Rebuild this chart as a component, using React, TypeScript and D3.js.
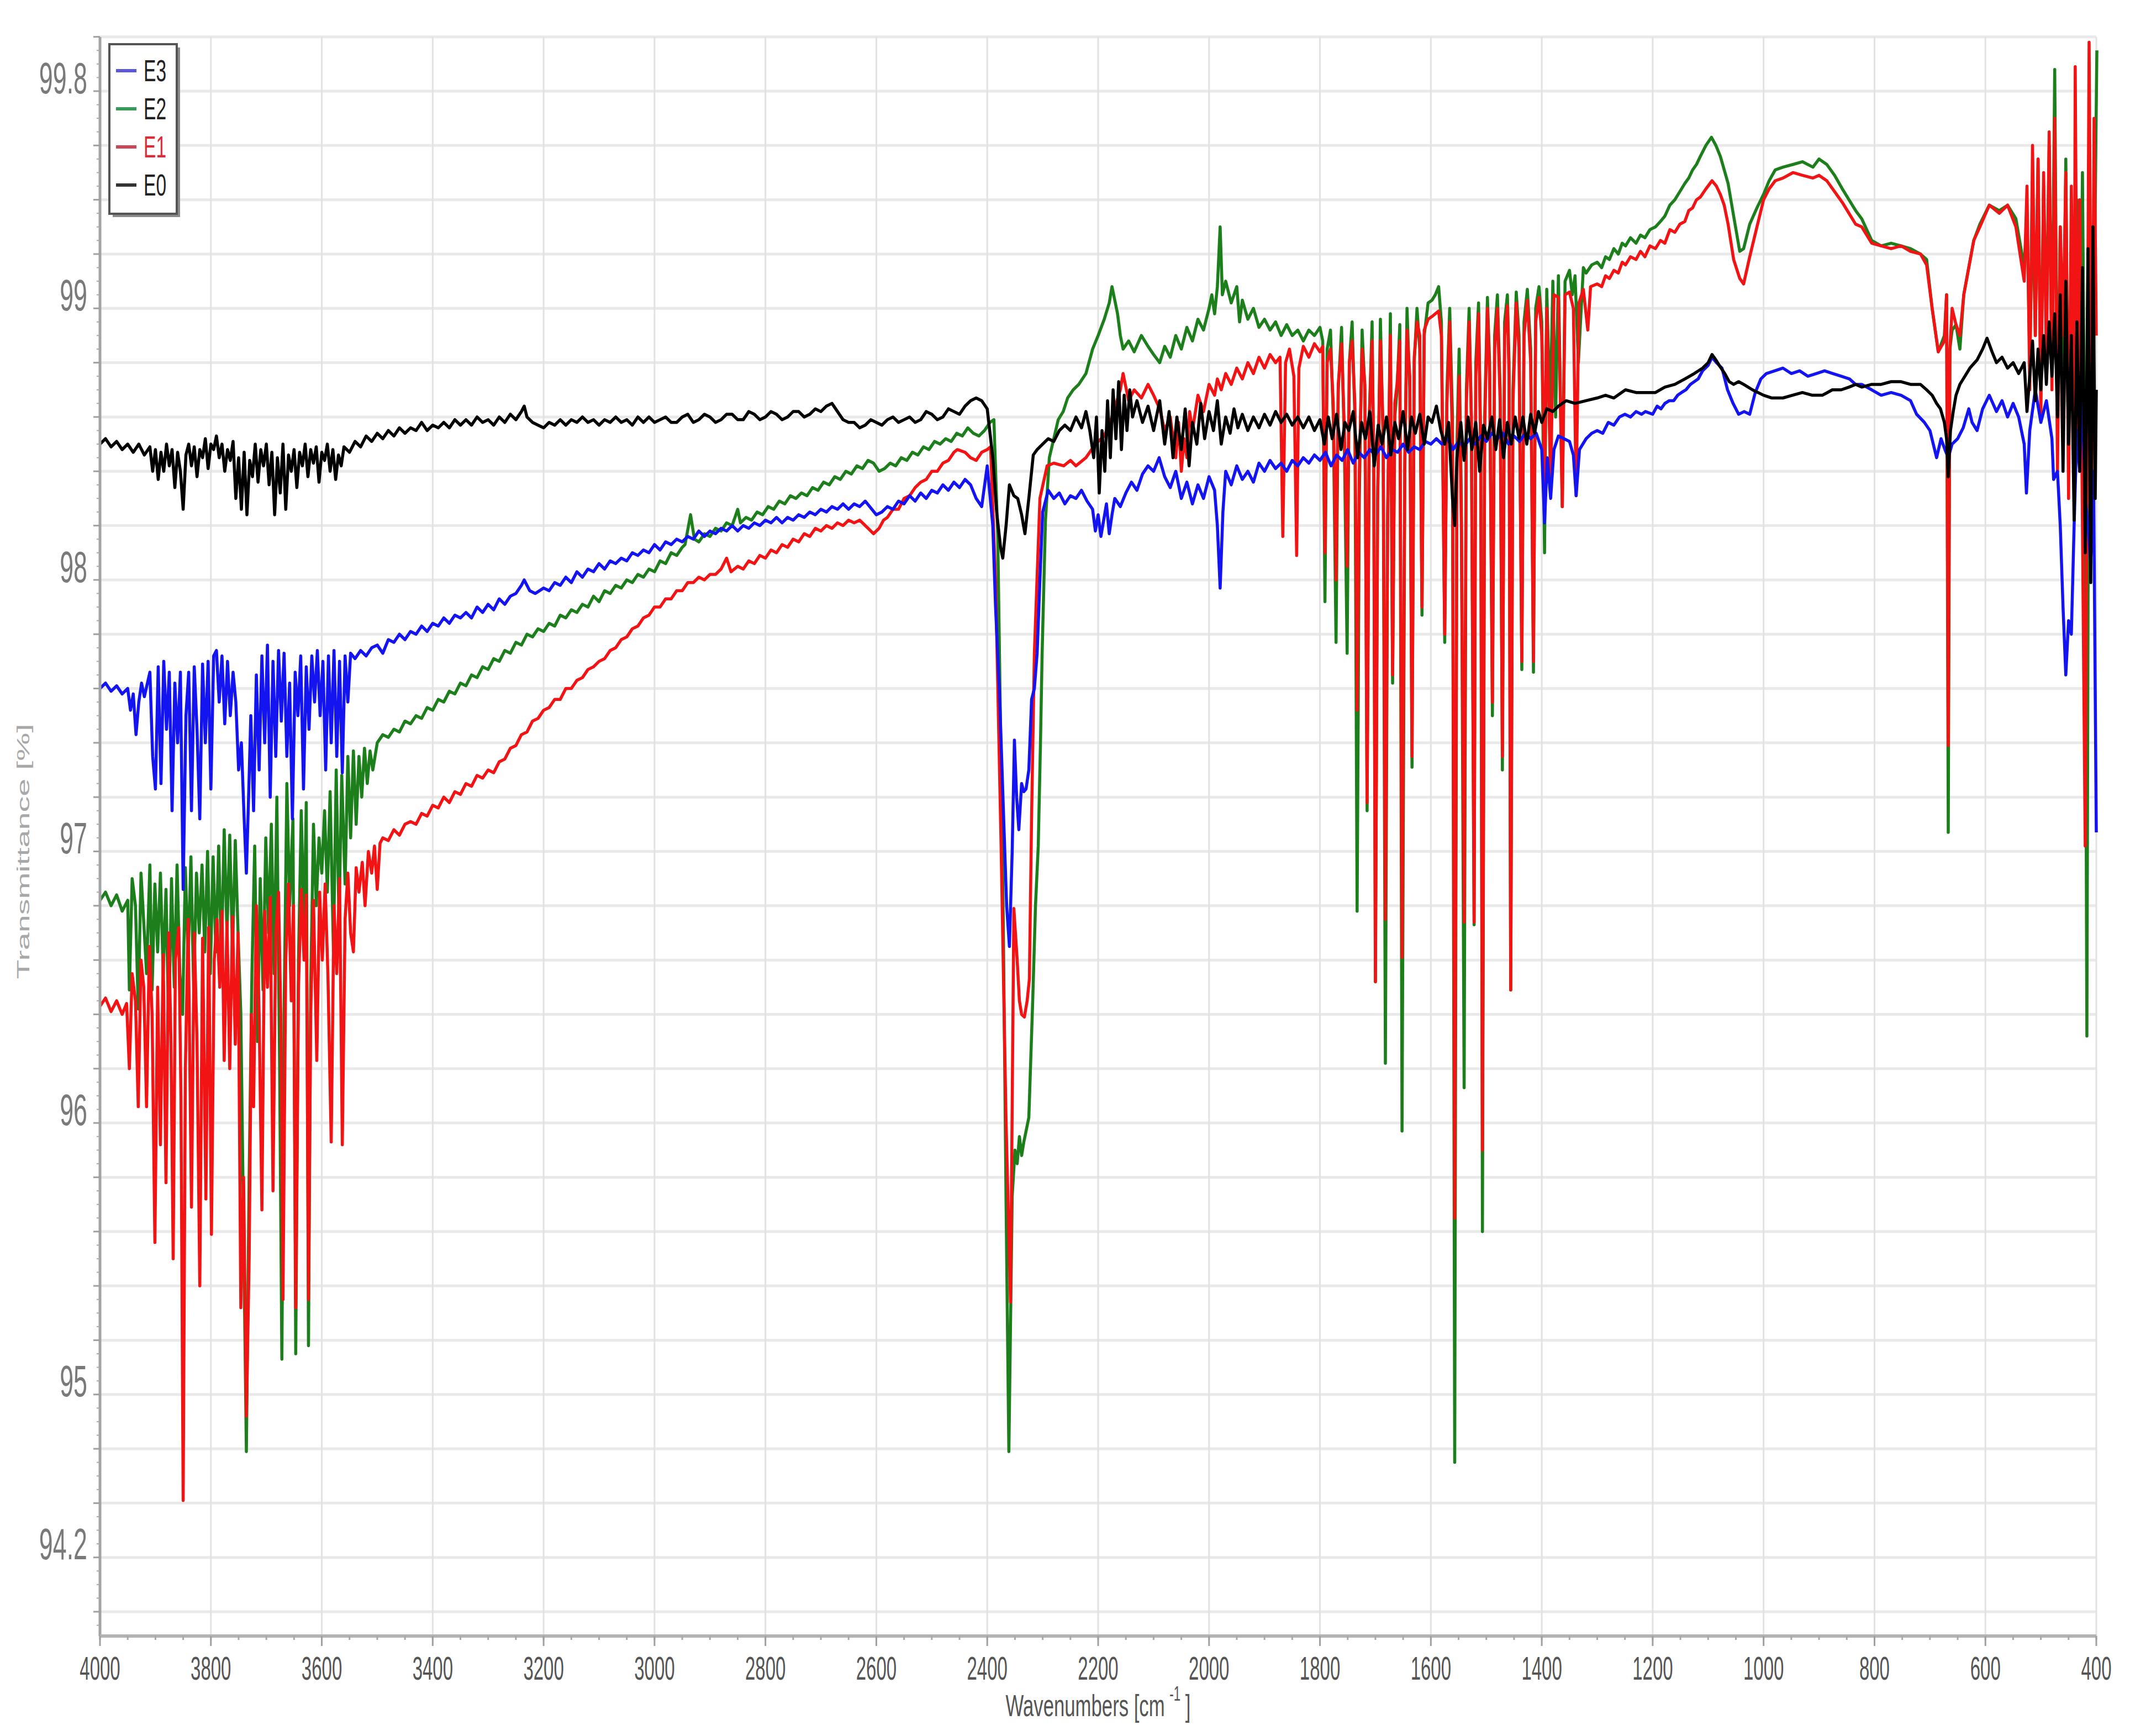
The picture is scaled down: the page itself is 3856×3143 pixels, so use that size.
import { useMemo } from "react";
import * as d3 from "d3";

type Pt = [number, number];

// E0 (black)
const e0: Pt[] = [
  [4000,98.50],[3990,98.52],[3980,98.49],[3970,98.51],[3960,98.48],[3950,98.50],[3940,98.47],[3930,98.50],[3920,98.46],[3910,98.49],
  [3905,98.40],[3900,98.48],[3895,98.37],[3890,98.47],[3885,98.40],[3880,98.50],[3875,98.42],[3870,98.48],[3865,98.34],[3860,98.47],
  [3855,98.40],[3850,98.26],[3845,98.46],[3840,98.50],[3835,98.42],[3830,98.49],[3825,98.38],[3820,98.48],[3815,98.45],[3810,98.52],
  [3805,98.41],[3800,98.50],[3795,98.48],[3790,98.53],[3785,98.45],[3780,98.50],[3775,98.40],[3770,98.48],[3765,98.44],[3760,98.51],
  [3755,98.30],[3750,98.45],[3745,98.26],[3740,98.47],[3735,98.24],[3730,98.44],[3725,98.38],[3720,98.50],[3715,98.36],[3710,98.48],
  [3705,98.42],[3700,98.50],[3695,98.35],[3690,98.47],[3685,98.24],[3680,98.45],[3675,98.32],[3670,98.50],[3665,98.26],[3660,98.46],
  [3655,98.40],[3650,98.48],[3645,98.34],[3640,98.47],[3635,98.42],[3630,98.50],[3625,98.38],[3620,98.48],[3615,98.43],[3610,98.49],
  [3605,98.36],[3600,98.47],[3595,98.44],[3590,98.50],[3585,98.40],[3580,98.48],[3575,98.37],[3570,98.46],[3565,98.42],[3560,98.49],
  [3550,98.47],[3540,98.51],[3530,98.49],[3520,98.53],[3510,98.51],[3500,98.54],[3490,98.52],[3480,98.55],[3470,98.53],[3460,98.56],
  [3450,98.54],[3440,98.56],[3430,98.55],[3420,98.58],[3410,98.55],[3400,98.57],[3390,98.56],[3380,98.58],[3370,98.56],[3360,98.59],
  [3350,98.57],[3340,98.59],[3330,98.57],[3320,98.60],[3310,98.58],[3300,98.59],[3290,98.57],[3280,98.60],[3270,98.58],[3260,98.61],
  [3250,98.59],[3240,98.62],[3235,98.64],[3230,98.60],[3220,98.58],[3210,98.57],[3200,98.56],[3190,98.58],[3180,98.57],[3170,98.59],
  [3160,98.57],[3150,98.59],[3140,98.58],[3130,98.60],[3120,98.58],[3110,98.59],[3100,98.57],[3090,98.59],[3080,98.58],[3070,98.60],
  [3060,98.58],[3050,98.59],[3040,98.57],[3030,98.60],[3020,98.58],[3010,98.60],[3000,98.58],[2990,98.59],[2980,98.60],[2970,98.58],
  [2960,98.58],[2950,98.60],[2940,98.61],[2930,98.58],[2920,98.59],[2910,98.61],[2900,98.60],[2890,98.58],[2880,98.59],[2870,98.61],
  [2860,98.61],[2850,98.59],[2840,98.59],[2830,98.62],[2820,98.61],[2810,98.59],[2800,98.60],[2790,98.62],[2780,98.61],[2770,98.59],
  [2760,98.60],[2750,98.62],[2740,98.62],[2730,98.60],[2720,98.61],[2710,98.63],[2700,98.62],[2690,98.64],[2680,98.65],[2670,98.62],
  [2660,98.59],[2650,98.58],[2640,98.58],[2630,98.56],[2620,98.57],[2610,98.59],[2600,98.58],[2590,98.57],[2580,98.59],[2570,98.60],
  [2560,98.58],[2550,98.59],[2540,98.60],[2530,98.58],[2520,98.59],[2510,98.62],[2500,98.61],[2490,98.59],[2480,98.60],[2470,98.63],
  [2460,98.62],[2450,98.61],[2440,98.64],[2430,98.66],[2420,98.67],[2410,98.66],[2400,98.63],
  [2390,98.45],[2383,98.25],[2376,98.12],[2372,98.08],[2366,98.20],[2360,98.35],[2352,98.31],[2345,98.30],[2338,98.24],[2332,98.17],
  [2325,98.30],[2317,98.46],[2310,98.48],[2300,98.50],[2290,98.52],[2280,98.51],[2270,98.55],[2260,98.57],[2250,98.55],[2240,98.60],
  [2230,98.56],[2222,98.62],[2215,98.55],[2208,98.45],[2203,98.60],[2198,98.32],[2193,98.55],[2188,98.40],[2183,98.66],[2178,98.45],
  [2173,98.70],[2168,98.52],[2163,98.73],[2158,98.48],[2153,98.68],[2148,98.55],[2143,98.70],[2138,98.60],[2130,98.66],[2120,98.58],
  [2110,98.64],[2100,98.55],[2089,98.66],[2080,98.50],[2072,98.62],[2065,98.45],[2058,98.60],[2050,98.48],[2043,98.63],[2036,98.42],
  [2030,98.58],[2022,98.50],[2015,98.65],[2008,98.52],[2000,98.62],[1992,98.55],[1985,98.66],[1978,98.50],[1970,98.60],[1962,98.54],
  [1955,98.63],[1948,98.56],[1940,98.61],[1930,98.55],[1920,98.60],[1910,98.56],[1900,98.61],[1890,98.57],[1880,98.62],[1870,98.58],
  [1860,98.61],[1850,98.57],[1840,98.60],[1830,98.56],[1820,98.60],[1810,98.55],[1800,98.59],[1792,98.50],[1785,98.60],[1778,98.52],
  [1770,98.61],[1762,98.48],[1755,98.58],[1748,98.55],[1740,98.62],[1732,98.45],[1725,98.58],[1718,98.52],[1710,98.62],[1702,98.42],
  [1695,98.57],[1688,98.50],[1680,98.60],[1672,98.46],[1665,98.58],[1658,98.52],[1650,98.62],[1642,98.48],[1635,98.60],[1628,98.54],
  [1620,98.61],[1612,98.50],[1605,98.60],[1598,98.58],[1590,98.64],[1582,98.55],[1575,98.50],[1568,98.58],[1561,98.30],[1557,98.20],
  [1553,98.45],[1546,98.58],[1540,98.44],[1533,98.60],[1526,98.48],[1519,98.58],[1512,98.40],[1505,98.57],[1498,98.52],[1490,98.60],
  [1483,98.48],[1476,98.59],[1469,98.45],[1462,98.58],[1455,98.50],[1448,98.60],[1441,98.52],[1434,98.60],[1427,98.50],[1420,98.61],
  [1413,98.54],[1406,98.62],[1400,98.58],[1391,98.63],[1380,98.62],[1370,98.64],[1356,98.66],[1340,98.65],[1320,98.66],[1300,98.67],
  [1285,98.68],[1270,98.67],[1249,98.70],[1230,98.69],[1213,98.69],[1195,98.69],[1178,98.71],[1160,98.72],[1142,98.74],[1125,98.76],
  [1110,98.78],[1100,98.80],[1093,98.83],[1086,98.81],[1080,98.79],[1070,98.76],[1062,98.73],[1054,98.72],[1045,98.73],[1036,98.72],
  [1020,98.70],[1000,98.68],[985,98.67],[965,98.67],[948,98.68],[930,98.69],[912,98.68],[894,98.68],[876,98.70],[860,98.70],
  [846,98.71],[834,98.72],[823,98.71],[805,98.72],[788,98.72],[770,98.73],[752,98.73],[735,98.72],[717,98.72],[706,98.70],
  [696,98.68],[688,98.65],[681,98.63],[674,98.58],[670,98.52],[667,98.38],[663,98.55],[658,98.62],[653,98.68],[646,98.72],
  [640,98.74],[628,98.78],[615,98.81],[605,98.85],[597,98.89],[588,98.84],[580,98.80],[570,98.82],[560,98.78],[550,98.80],
  [540,98.76],[530,98.80],[525,98.62],[520,98.75],[515,98.88],[510,98.66],[505,98.85],[500,98.70],[495,98.90],[490,98.72],
  [485,98.95],[480,98.75],[475,98.98],[470,98.60],[465,99.05],[460,98.40],[455,99.10],[450,98.50],[445,98.90],[440,98.22],
  [435,98.95],[430,98.40],[425,99.15],[420,98.10],[415,99.22],[410,97.99],[406,99.30],[402,98.30],[400,98.70],
];

// E1 (red)
const e1: Pt[] = [
  [4000,96.43],[3990,96.46],[3980,96.41],[3970,96.45],[3960,96.40],[3952,96.44],[3947,96.20],[3942,96.55],[3936,96.45],[3931,96.06],
  [3926,96.60],[3921,96.50],[3916,96.06],[3911,96.65],[3906,96.40],[3901,95.56],[3896,96.50],[3891,95.92],[3886,96.62],[3881,95.78],
  [3876,96.70],[3872,96.30],[3868,95.50],[3864,96.60],[3858,96.72],[3854,96.10],[3850,94.61],[3846,96.20],[3841,96.75],[3835,95.69],
  [3830,96.70],[3825,96.30],[3820,95.40],[3815,96.68],[3809,95.72],[3804,96.72],[3799,95.59],[3794,96.60],[3789,96.75],[3784,96.50],
  [3780,96.78],[3776,96.23],[3771,96.74],[3766,96.20],[3761,96.76],[3756,96.29],[3751,96.70],[3746,95.32],[3741,95.80],[3736,94.92],
  [3731,95.50],[3727,96.40],[3723,96.06],[3718,96.80],[3713,96.40],[3708,95.68],[3703,96.78],[3698,96.50],[3693,96.83],[3688,95.75],
  [3683,96.70],[3678,96.85],[3674,96.40],[3670,95.35],[3665,96.60],[3660,96.88],[3655,96.45],[3651,96.80],[3647,95.32],[3642,96.50],
  [3637,96.86],[3632,96.60],[3628,96.84],[3624,95.35],[3620,96.40],[3615,96.82],[3609,96.23],[3604,96.85],[3599,96.60],[3594,96.88],
  [3589,96.55],[3583,95.93],[3578,96.80],[3573,96.55],[3568,96.90],[3563,95.92],[3558,96.75],[3553,96.92],[3548,96.70],[3543,96.63],
  [3538,96.94],[3533,96.85],[3527,96.96],[3522,96.80],[3516,97.00],[3510,96.92],[3505,97.02],[3500,96.86],[3495,97.03],[3490,97.05],
  [3480,97.04],[3470,97.08],[3460,97.06],[3450,97.10],[3440,97.11],[3430,97.10],[3420,97.14],[3410,97.13],[3400,97.17],[3390,97.16],
  [3380,97.20],[3370,97.18],[3360,97.22],[3350,97.21],[3340,97.25],[3330,97.24],[3320,97.28],[3310,97.27],[3300,97.30],[3290,97.29],
  [3280,97.33],[3270,97.34],[3260,97.38],[3250,97.39],[3240,97.43],[3230,97.44],[3220,97.48],[3210,97.49],[3200,97.52],[3190,97.53],
  [3180,97.56],[3170,97.56],[3160,97.60],[3150,97.60],[3140,97.63],[3130,97.64],[3120,97.67],[3110,97.68],[3100,97.70],[3090,97.71],
  [3080,97.74],[3070,97.75],[3060,97.78],[3050,97.79],[3040,97.82],[3030,97.83],[3020,97.86],[3010,97.87],[3000,97.90],[2990,97.90],
  [2980,97.93],[2970,97.93],[2960,97.96],[2950,97.96],[2940,97.99],[2930,97.99],[2920,98.01],[2910,98.00],[2900,98.02],[2890,98.02],
  [2880,98.04],[2870,98.08],[2862,98.03],[2850,98.05],[2840,98.04],[2830,98.07],[2820,98.06],[2810,98.09],[2800,98.08],[2790,98.11],
  [2780,98.10],[2770,98.13],[2760,98.12],[2750,98.15],[2740,98.14],[2730,98.17],[2720,98.16],[2710,98.19],[2700,98.18],[2690,98.20],
  [2680,98.19],[2670,98.21],[2660,98.20],[2650,98.22],[2640,98.21],[2630,98.22],[2620,98.20],[2605,98.17],[2595,98.19],[2587,98.22],
  [2580,98.23],[2570,98.26],[2560,98.26],[2550,98.30],[2540,98.31],[2530,98.34],[2520,98.36],[2510,98.37],[2500,98.40],[2490,98.40],
  [2480,98.43],[2470,98.44],[2460,98.47],[2454,98.48],[2440,98.47],[2430,98.45],[2420,98.44],[2410,98.47],[2400,98.48],[2394,98.49],
  [2385,98.00],[2375,97.02],[2366,96.00],[2358,95.34],[2352,96.79],[2346,96.60],[2342,96.45],[2338,96.40],[2333,96.39],[2328,96.45],
  [2324,96.53],[2320,97.13],[2315,97.73],[2305,98.30],[2292,98.42],[2280,98.43],[2262,98.42],[2250,98.44],[2240,98.42],[2222,98.45],
  [2205,98.50],[2189,98.53],[2175,98.60],[2160,98.70],[2155,98.76],[2145,98.66],[2135,98.70],[2122,98.67],[2110,98.72],[2100,98.68],
  [2089,98.63],[2080,98.55],[2070,98.60],[2060,98.45],[2055,98.58],[2050,98.40],[2045,98.52],[2040,98.45],[2035,98.62],[2030,98.55],
  [2020,98.68],[2010,98.62],[2000,98.72],[1990,98.68],[1985,98.74],[1978,98.70],[1970,98.76],[1960,98.72],[1950,98.78],[1940,98.74],
  [1930,98.80],[1920,98.76],[1910,98.82],[1900,98.78],[1890,98.83],[1880,98.80],[1872,98.82],[1867,98.16],[1862,98.80],[1855,98.85],
  [1847,98.75],[1842,98.09],[1838,98.78],[1830,98.86],[1820,98.82],[1810,98.87],[1800,98.84],[1795,98.86],[1791,98.10],[1787,98.80],
  [1781,98.85],[1776,98.65],[1771,98.00],[1767,98.72],[1761,98.87],[1756,98.55],[1751,98.05],[1747,98.80],[1742,98.88],[1737,98.65],
  [1733,97.52],[1729,98.40],[1724,98.85],[1719,98.72],[1715,97.18],[1711,98.60],[1706,98.88],[1703,98.45],[1700,96.52],[1696,98.30],
  [1691,98.88],[1686,98.55],[1682,96.75],[1678,98.25],[1673,98.90],[1669,97.65],[1665,98.65],[1661,98.72],[1656,98.88],[1652,96.61],
  [1647,98.45],[1643,98.92],[1638,98.75],[1634,97.35],[1630,98.82],[1625,98.95],[1620,98.90],[1616,97.90],[1612,98.92],[1605,98.96],
  [1598,98.97],[1592,98.98],[1586,98.99],[1581,98.90],[1575,97.80],[1571,98.65],[1566,98.95],[1561,98.50],[1557,95.65],[1553,98.40],
  [1549,98.75],[1545,98.20],[1540,96.74],[1536,98.65],[1531,98.95],[1527,98.60],[1522,96.74],[1519,98.75],[1514,98.98],[1510,98.45],
  [1507,95.90],[1503,98.55],[1498,99.00],[1494,98.75],[1489,97.55],[1485,98.85],[1480,99.00],[1475,98.65],[1471,97.35],[1467,98.90],
  [1462,99.01],[1459,98.75],[1456,96.49],[1452,98.65],[1446,99.02],[1441,98.85],[1436,97.70],[1432,98.90],[1426,99.03],[1420,98.80],
  [1415,97.70],[1411,98.95],[1405,99.04],[1400,98.90],[1395,98.35],[1391,99.00],[1384,98.35],[1378,99.05],[1370,99.04],[1363,98.27],
  [1358,99.05],[1350,99.06],[1343,99.00],[1338,98.31],[1333,99.02],[1325,99.07],[1317,98.92],[1312,99.08],[1300,99.09],[1292,99.08],
  [1285,99.12],[1278,99.11],[1270,99.14],[1262,99.13],[1255,99.17],[1249,99.16],[1240,99.19],[1230,99.18],[1222,99.21],[1214,99.19],
  [1205,99.23],[1195,99.22],[1186,99.25],[1178,99.24],[1169,99.29],[1160,99.28],[1151,99.31],[1142,99.32],[1135,99.36],[1128,99.37],
  [1121,99.40],[1114,99.41],[1104,99.44],[1093,99.47],[1085,99.45],[1078,99.42],[1071,99.38],[1064,99.31],[1054,99.18],[1043,99.11],
  [1036,99.09],[1025,99.19],[1012,99.30],[1000,99.40],[990,99.44],[979,99.47],[965,99.48],[947,99.50],[930,99.49],[911,99.48],
  [900,99.49],[886,99.47],[872,99.43],[858,99.39],[846,99.35],[834,99.31],[823,99.30],[805,99.24],[788,99.23],[770,99.22],
  [752,99.23],[735,99.21],[717,99.20],[706,99.16],[696,99.00],[685,98.84],[674,98.88],[670,99.05],[667,97.39],[664,98.85],
  [660,99.00],[653,98.94],[646,98.90],[639,99.05],[630,99.15],[621,99.25],[610,99.30],[593,99.38],[575,99.35],[560,99.38],
  [545,99.30],[530,99.10],[525,99.45],[520,98.70],[515,99.60],[510,98.90],[505,99.55],[500,98.60],[495,99.50],[490,98.80],
  [485,99.65],[480,98.70],[475,99.70],[470,98.40],[465,99.30],[460,98.90],[455,99.50],[450,98.30],[445,99.45],[440,98.60],
  [438,99.89],[434,98.50],[430,99.40],[425,98.20],[420,97.02],[416,98.80],[413,99.98],[408,98.40],[404,99.70],[400,98.90],
];

// E2 (green)
const e2: Pt[] = [
  [4000,96.82],[3990,96.85],[3980,96.80],[3970,96.84],[3960,96.78],[3950,96.82],[3947,96.49],[3942,96.90],[3936,96.80],[3931,96.42],
  [3926,96.92],[3920,96.70],[3916,96.55],[3910,96.95],[3906,96.49],[3901,96.88],[3896,96.63],[3891,96.92],[3886,96.55],[3881,96.86],
  [3876,96.35],[3871,96.90],[3866,96.50],[3861,96.95],[3856,96.55],[3851,96.40],[3846,96.94],[3841,96.60],[3836,96.98],[3831,96.49],
  [3826,96.92],[3821,96.70],[3816,96.95],[3811,96.63],[3806,97.00],[3801,96.55],[3796,96.98],[3791,96.63],[3786,97.02],[3781,96.60],
  [3776,97.08],[3771,96.70],[3766,97.06],[3761,96.63],[3756,97.04],[3751,96.70],[3746,96.40],[3741,95.60],[3736,94.79],[3731,95.80],
  [3726,96.55],[3721,97.02],[3716,96.30],[3711,96.90],[3706,96.49],[3701,97.05],[3696,96.70],[3691,97.10],[3686,96.55],[3681,97.20],
  [3676,96.20],[3672,95.13],[3668,96.40],[3663,97.25],[3658,96.80],[3652,97.12],[3647,95.15],[3642,96.60],[3637,97.15],[3632,96.70],
  [3628,97.18],[3624,95.18],[3620,96.50],[3615,97.10],[3610,96.80],[3605,97.05],[3600,96.92],[3595,97.15],[3590,96.85],[3585,97.22],
  [3579,96.63],[3574,97.30],[3569,96.75],[3564,97.28],[3558,96.88],[3553,97.35],[3548,97.05],[3543,97.37],[3538,97.10],[3533,97.35],
  [3528,97.20],[3523,97.38],[3518,97.25],[3513,97.37],[3508,97.30],[3500,97.40],[3490,97.43],[3480,97.42],[3470,97.45],[3460,97.44],
  [3450,97.48],[3440,97.47],[3430,97.50],[3420,97.49],[3410,97.53],[3400,97.52],[3390,97.56],[3380,97.55],[3370,97.59],[3360,97.58],
  [3350,97.62],[3340,97.61],[3330,97.65],[3320,97.64],[3310,97.68],[3300,97.67],[3290,97.71],[3280,97.70],[3270,97.74],[3260,97.73],
  [3250,97.77],[3240,97.76],[3230,97.80],[3220,97.79],[3210,97.82],[3200,97.81],[3190,97.84],[3180,97.83],[3170,97.87],[3160,97.86],
  [3150,97.89],[3140,97.88],[3130,97.91],[3120,97.90],[3110,97.94],[3100,97.92],[3090,97.96],[3080,97.95],[3070,97.98],[3060,97.97],
  [3050,98.00],[3040,97.99],[3030,98.02],[3020,98.01],[3010,98.04],[3000,98.03],[2990,98.07],[2980,98.06],[2970,98.10],[2960,98.09],
  [2950,98.12],[2945,98.13],[2935,98.24],[2928,98.15],[2920,98.14],[2910,98.17],[2900,98.16],[2890,98.19],[2880,98.18],[2870,98.21],
  [2860,98.20],[2850,98.26],[2845,98.21],[2835,98.23],[2825,98.22],[2815,98.25],[2805,98.24],[2795,98.27],[2785,98.26],[2775,98.29],
  [2765,98.28],[2755,98.31],[2745,98.30],[2735,98.32],[2725,98.31],[2715,98.34],[2705,98.33],[2695,98.36],[2685,98.35],[2675,98.38],
  [2665,98.37],[2655,98.40],[2645,98.39],[2635,98.42],[2625,98.41],[2615,98.44],[2605,98.43],[2595,98.40],[2585,98.41],[2575,98.43],
  [2565,98.42],[2555,98.45],[2545,98.44],[2535,98.47],[2525,98.46],[2515,98.49],[2505,98.48],[2495,98.51],[2485,98.50],[2475,98.52],
  [2465,98.51],[2455,98.54],[2445,98.53],[2435,98.56],[2425,98.54],[2415,98.53],[2405,98.55],[2395,98.58],[2388,98.59],[2381,98.16],
  [2376,97.45],[2371,96.73],[2366,95.70],[2361,94.79],[2355,95.73],[2350,95.90],[2346,95.85],[2342,95.95],[2338,95.88],[2334,95.93],
  [2330,95.97],[2325,96.02],[2318,96.45],[2313,96.80],[2308,97.02],[2304,97.40],[2301,97.73],[2295,98.22],[2288,98.45],[2280,98.52],
  [2272,98.59],[2263,98.62],[2255,98.67],[2245,98.70],[2235,98.72],[2222,98.76],[2210,98.85],[2200,98.90],[2189,98.96],[2180,99.02],
  [2175,99.08],[2170,99.03],[2165,98.98],[2160,98.90],[2155,98.85],[2145,98.88],[2135,98.84],[2122,98.90],[2110,98.86],[2100,98.83],
  [2089,98.80],[2080,98.86],[2070,98.82],[2060,98.90],[2050,98.85],[2040,98.93],[2030,98.88],[2020,98.96],[2010,98.92],[2000,99.00],
  [1995,99.05],[1990,98.98],[1985,99.08],[1980,99.30],[1976,99.05],[1970,99.10],[1960,99.02],[1950,99.08],[1945,98.95],[1940,99.03],
  [1930,98.96],[1920,99.00],[1910,98.93],[1900,98.96],[1890,98.92],[1880,98.95],[1870,98.90],[1860,98.94],[1850,98.90],[1840,98.92],
  [1830,98.88],[1820,98.92],[1810,98.90],[1800,98.93],[1795,98.88],[1791,97.92],[1787,98.85],[1781,98.92],[1776,98.60],[1771,97.77],
  [1767,98.70],[1761,98.93],[1756,98.50],[1751,97.73],[1747,98.80],[1742,98.95],[1737,98.60],[1733,96.78],[1729,98.30],[1724,98.92],
  [1719,98.70],[1715,97.15],[1711,98.60],[1706,98.95],[1703,98.40],[1700,96.52],[1696,98.30],[1691,98.96],[1686,98.50],[1682,96.22],
  [1678,98.20],[1673,98.98],[1669,97.62],[1665,98.60],[1661,98.70],[1656,98.94],[1652,95.97],[1647,98.40],[1643,99.00],[1638,98.70],
  [1634,97.31],[1630,98.80],[1625,99.00],[1620,98.85],[1616,97.87],[1612,98.90],[1605,99.02],[1598,99.03],[1592,99.05],[1586,99.08],
  [1581,98.95],[1575,97.77],[1571,98.70],[1566,99.00],[1561,98.60],[1557,94.75],[1553,98.50],[1549,98.85],[1545,98.30],[1540,96.13],
  [1536,98.70],[1531,99.00],[1527,98.60],[1522,96.73],[1519,98.80],[1514,99.02],[1510,98.50],[1507,95.60],[1503,98.60],[1498,99.04],
  [1494,98.80],[1489,97.50],[1485,98.90],[1480,99.05],[1475,98.70],[1471,97.30],[1467,98.95],[1462,99.05],[1459,98.80],[1456,96.49],
  [1452,98.70],[1446,99.06],[1441,98.90],[1436,97.67],[1432,98.95],[1426,99.07],[1420,98.85],[1415,97.66],[1411,99.00],[1405,99.08],
  [1400,98.95],[1395,98.10],[1391,99.07],[1385,98.60],[1380,99.10],[1375,98.60],[1370,99.12],[1363,98.27],[1358,99.10],[1350,99.14],
  [1345,99.05],[1340,99.12],[1334,98.80],[1325,99.15],[1320,99.13],[1310,99.16],[1300,99.17],[1292,99.15],[1285,99.19],[1278,99.18],
  [1270,99.22],[1262,99.20],[1255,99.24],[1249,99.23],[1240,99.26],[1230,99.24],[1222,99.27],[1214,99.26],[1205,99.29],[1195,99.30],
  [1186,99.32],[1178,99.34],[1169,99.38],[1160,99.40],[1151,99.43],[1142,99.46],[1135,99.48],[1128,99.51],[1121,99.53],[1114,99.56],
  [1104,99.60],[1094,99.63],[1086,99.60],[1078,99.56],[1071,99.51],[1064,99.46],[1054,99.34],[1043,99.21],[1036,99.22],[1025,99.31],
  [1012,99.37],[1000,99.42],[990,99.47],[979,99.51],[965,99.52],[947,99.53],[930,99.54],[911,99.52],[900,99.55],[886,99.53],
  [872,99.49],[858,99.44],[846,99.40],[834,99.36],[823,99.33],[805,99.25],[788,99.23],[770,99.24],[752,99.23],[735,99.22],
  [717,99.20],[706,99.18],[696,99.00],[685,98.84],[674,98.90],[670,99.05],[667,97.07],[664,98.85],[660,98.92],[653,98.94],
  [646,98.85],[639,99.05],[630,99.15],[621,99.25],[610,99.31],[593,99.38],[575,99.36],[560,99.38],[545,99.33],[530,99.15],
  [525,99.35],[520,98.80],[515,99.40],[510,98.90],[505,99.55],[500,98.70],[495,99.45],[490,98.95],[485,99.60],[480,98.80],
  [475,99.88],[470,98.50],[465,99.30],[460,98.60],[455,99.55],[450,98.40],[445,99.20],[440,98.30],[435,99.40],[430,98.50],
  [425,99.50],[420,98.20],[417,96.32],[414,98.60],[410,99.30],[405,98.80],[399,99.95],
];

// E3 (blue)
const e3: Pt[] = [
  [4000,97.60],[3990,97.62],[3980,97.59],[3970,97.61],[3960,97.58],[3950,97.60],[3945,97.52],[3940,97.58],[3935,97.43],[3930,97.55],
  [3925,97.62],[3920,97.57],[3910,97.66],[3905,97.35],[3900,97.23],[3895,97.68],[3890,97.25],[3885,97.70],[3880,97.45],[3875,97.66],
  [3870,97.15],[3865,97.62],[3860,97.40],[3855,97.66],[3850,96.86],[3845,97.50],[3840,97.66],[3835,97.15],[3830,97.68],[3825,97.45],
  [3820,97.12],[3815,97.69],[3810,97.40],[3805,97.70],[3800,97.23],[3795,97.72],[3790,97.74],[3785,97.55],[3780,97.72],[3775,97.47],
  [3770,97.70],[3765,97.50],[3760,97.66],[3755,97.55],[3750,97.30],[3745,97.40],[3740,97.12],[3736,96.92],[3732,97.20],[3728,97.50],
  [3723,97.15],[3718,97.65],[3713,97.30],[3708,97.72],[3703,97.40],[3698,97.76],[3693,97.20],[3688,97.70],[3683,97.35],[3678,97.74],
  [3673,97.48],[3668,97.73],[3663,97.35],[3658,97.62],[3653,97.12],[3648,97.66],[3643,97.50],[3638,97.72],[3633,97.23],[3628,97.68],
  [3623,97.45],[3618,97.72],[3613,97.55],[3608,97.74],[3603,97.50],[3598,97.70],[3593,97.30],[3588,97.72],[3583,97.40],[3578,97.74],
  [3573,97.35],[3568,97.70],[3563,97.29],[3558,97.72],[3553,97.55],[3548,97.73],[3540,97.71],[3530,97.74],[3520,97.72],[3510,97.75],
  [3500,97.76],[3490,97.73],[3480,97.78],[3470,97.77],[3460,97.80],[3450,97.78],[3440,97.81],[3430,97.80],[3420,97.83],[3410,97.81],
  [3400,97.84],[3390,97.83],[3380,97.86],[3370,97.84],[3360,97.87],[3350,97.86],[3340,97.88],[3330,97.86],[3320,97.90],[3310,97.88],
  [3300,97.91],[3290,97.89],[3280,97.93],[3270,97.91],[3260,97.94],[3250,97.95],[3240,97.98],[3235,98.00],[3225,97.96],[3215,97.95],
  [3200,97.97],[3190,97.96],[3180,97.99],[3170,97.98],[3160,98.01],[3150,97.99],[3140,98.03],[3130,98.01],[3120,98.04],[3110,98.03],
  [3100,98.06],[3090,98.04],[3080,98.07],[3070,98.06],[3060,98.08],[3050,98.07],[3040,98.10],[3030,98.09],[3020,98.11],[3010,98.10],
  [3000,98.13],[2990,98.11],[2980,98.14],[2970,98.13],[2960,98.15],[2950,98.14],[2940,98.16],[2930,98.15],[2920,98.18],[2910,98.16],
  [2900,98.18],[2890,98.17],[2880,98.19],[2870,98.18],[2860,98.20],[2850,98.18],[2840,98.20],[2830,98.19],[2820,98.21],[2810,98.20],
  [2800,98.22],[2790,98.21],[2780,98.23],[2770,98.21],[2760,98.23],[2750,98.22],[2740,98.24],[2730,98.23],[2720,98.25],[2710,98.24],
  [2700,98.26],[2690,98.25],[2680,98.27],[2670,98.26],[2660,98.28],[2650,98.26],[2640,98.28],[2630,98.27],[2620,98.29],[2600,98.24],
  [2590,98.25],[2580,98.27],[2570,98.26],[2560,98.29],[2550,98.28],[2540,98.31],[2530,98.29],[2520,98.32],[2510,98.30],[2500,98.33],
  [2490,98.32],[2480,98.35],[2470,98.33],[2460,98.36],[2450,98.34],[2440,98.37],[2430,98.35],[2420,98.30],[2410,98.27],[2400,98.42],
  [2390,98.20],[2385,97.90],[2378,97.59],[2370,97.10],[2365,96.80],[2360,96.65],[2355,97.00],[2351,97.41],[2347,97.20],[2343,97.08],
  [2338,97.25],[2334,97.22],[2330,97.23],[2325,97.30],[2320,97.56],[2315,97.60],[2310,97.73],[2305,98.00],[2300,98.25],[2290,98.33],
  [2280,98.30],[2270,98.32],[2260,98.28],[2250,98.31],[2240,98.30],[2230,98.33],[2220,98.29],[2210,98.26],[2205,98.18],[2200,98.24],
  [2195,98.16],[2190,98.22],[2185,98.28],[2180,98.17],[2175,98.24],[2170,98.30],[2160,98.27],[2150,98.32],[2140,98.36],[2130,98.33],
  [2120,98.39],[2110,98.42],[2100,98.40],[2090,98.45],[2080,98.38],[2070,98.34],[2060,98.40],[2050,98.30],[2040,98.36],[2030,98.28],
  [2020,98.35],[2010,98.30],[2000,98.38],[1990,98.33],[1985,98.20],[1980,97.97],[1975,98.25],[1970,98.40],[1960,98.35],[1950,98.42],
  [1940,98.37],[1930,98.40],[1920,98.36],[1910,98.43],[1900,98.40],[1890,98.44],[1880,98.41],[1870,98.43],[1860,98.40],[1850,98.44],
  [1840,98.42],[1830,98.45],[1820,98.43],[1810,98.46],[1800,98.44],[1790,98.47],[1780,98.42],[1770,98.46],[1760,98.44],[1750,98.48],
  [1740,98.43],[1730,98.47],[1720,98.45],[1710,98.48],[1700,98.46],[1690,98.49],[1680,98.45],[1670,98.48],[1660,98.47],[1650,98.50],
  [1640,98.47],[1630,98.49],[1620,98.48],[1610,98.51],[1600,98.50],[1590,98.52],[1580,98.50],[1570,98.52],[1560,98.48],[1550,98.51],
  [1540,98.49],[1530,98.52],[1520,98.50],[1510,98.53],[1500,98.51],[1490,98.54],[1480,98.52],[1470,98.54],[1460,98.50],[1450,98.53],
  [1440,98.51],[1430,98.54],[1420,98.52],[1410,98.54],[1400,98.48],[1395,98.21],[1390,98.45],[1384,98.30],[1378,98.48],[1370,98.53],
  [1360,98.52],[1350,98.51],[1343,98.46],[1338,98.31],[1332,98.48],[1320,98.52],[1310,98.54],[1300,98.55],[1290,98.54],[1280,98.58],
  [1270,98.57],[1260,98.60],[1250,98.61],[1240,98.60],[1230,98.62],[1220,98.61],[1213,98.62],[1200,98.61],[1192,98.64],[1185,98.63],
  [1178,98.65],[1170,98.66],[1162,98.66],[1155,98.68],[1148,98.69],[1140,98.70],[1132,98.72],[1125,98.73],[1118,98.74],[1110,98.77],
  [1100,98.79],[1093,98.82],[1085,98.80],[1075,98.78],[1065,98.70],[1055,98.65],[1045,98.61],[1035,98.62],[1025,98.61],[1015,98.69],
  [1005,98.74],[995,98.76],[980,98.77],[965,98.78],[950,98.76],[935,98.77],[920,98.75],[905,98.76],[890,98.77],[875,98.76],
  [860,98.75],[845,98.74],[834,98.72],[823,98.72],[805,98.70],[788,98.68],[770,98.69],[752,98.68],[735,98.66],[724,98.61],
  [710,98.58],[700,98.55],[688,98.45],[680,98.52],[673,98.48],[667,98.45],[660,98.50],[650,98.52],[640,98.56],[630,98.63],
  [624,98.58],[615,98.55],[605,98.63],[593,98.68],[580,98.62],[570,98.66],[560,98.60],[550,98.65],[540,98.60],[530,98.50],
  [526,98.32],[520,98.55],[510,98.70],[500,98.58],[490,98.66],[480,98.52],[477,98.37],[470,98.40],[465,98.20],[460,97.90],
  [455,97.65],[450,97.85],[445,97.80],[440,98.20],[435,98.55],[430,98.40],[425,98.70],[420,98.30],[415,98.20],[410,98.06],
  [405,98.40],[400,97.07],
];

const seriesNames = ["E3", "E2", "E1", "E0"];
const seriesData = [e3, e2, e1, e0];
const lineColors = ["#1414f0", "#1c7f1c", "#f21414", "#000000"];
const swatchColors = ["#5a5ad8", "#3a9a5a", "#c84858", "#333333"];
const legendTextColors = ["#222222", "#222222", "#e02a36", "#222222"];
const drawOrder = [1, 2, 0, 3];

const xTicks = [4000, 3800, 3600, 3400, 3200, 3000, 2800, 2600, 2400, 2200, 2000, 1800, 1600, 1400, 1200, 1000, 800, 600, 400];
const yTickAt = [99.8, 99, 98, 97, 96, 95, 94.4];
const yTickText = ["99.8", "99", "98", "97", "96", "95", "94.2"];

const FONT = "'Liberation Sans', Arial, sans-serif";

export default function App() {
  const W = 3856;
  const H = 3143;
  const left = 181;
  const right = 3795;
  const top = 67;
  const bottom = 2962;

  const x = useMemo(() => d3.scaleLinear().domain([4000, 400]).range([left, right]), []);
  const y = useMemo(() => d3.scaleLinear().domain([94.2, 99.8]).range([2918, 165]), []);
  const line = d3.line<Pt>().x((d) => x(d[0])).y((d) => y(d[1]));

  const hGrid = d3.range(0, 30).map((i) => 94.2 + i * 0.2);
  const vGrid = d3.range(3800, 399, -200);
  const xMinor = d3.range(4000, 399, -50);
  const yMinor = d3.range(0, 118).map((i) => 94.15 + i * 0.05);

  return (
    <svg
      width={W}
      height={H}
      style={{ position: "absolute", left: 0, top: 0, background: "#fff" }}
      fontFamily={FONT}
    >
      <rect width={W} height={H} fill="#fff" />
      {/* grid */}
      {hGrid.map((v) => (
        <line key={"h" + v.toFixed(1)} x1={left} x2={right} y1={y(v)} y2={y(v)} stroke="#e9e9e9" strokeWidth={5} />
      ))}
      {vGrid.map((t) => (
        <line key={"v" + t} x1={x(t)} x2={x(t)} y1={top} y2={bottom} stroke="#e2e2e2" strokeWidth={3} />
      ))}

      {/* spectra */}
      {drawOrder.map((i) => (
        <path
          key={seriesNames[i]}
          d={line(seriesData[i]) || ""}
          fill="none"
          stroke={lineColors[i]}
          strokeWidth={5.5}
          strokeLinejoin="round"
        />
      ))}

      {/* axes */}
      <line x1={left} x2={left} y1={top} y2={bottom} stroke="#a3a3a3" strokeWidth={5} />
      <line x1={left} x2={right} y1={bottom} y2={bottom} stroke="#b3b3b3" strokeWidth={6} />
      {yMinor.map((v, i) => (
        <line key={"ym" + i} x1={left - 6} x2={left} y1={y(v)} y2={y(v)} stroke="#a8a8a8" strokeWidth={2} />
      ))}
      {hGrid.map((v) => (
        <line key={"yM" + v.toFixed(1)} x1={left - 12} x2={left} y1={y(v)} y2={y(v)} stroke="#a0a0a0" strokeWidth={3} />
      ))}
      {xMinor.map((t) => (
        <line key={"xm" + t} x1={x(t)} x2={x(t)} y1={bottom} y2={bottom + 7} stroke="#a8a8a8" strokeWidth={3} />
      ))}
      {xTicks.map((t) => (
        <line key={"xM" + t} x1={x(t)} x2={x(t)} y1={bottom} y2={bottom + 18} stroke="#a0a0a0" strokeWidth={3} />
      ))}

      {/* tick labels */}
      {yTickAt.map((v, i) => (
        <text
          key={"yl" + i}
          transform={`translate(158,${y(v) - 24}) scale(0.56,1)`}
          textAnchor="end"
          dominantBaseline="central"
          fontSize={80}
          fill="#7a7a7a"
        >
          {yTickText[i]}
        </text>
      ))}
      {xTicks.map((t) => (
        <text
          key={"xl" + t}
          transform={`translate(${x(t)},${bottom + 58}) scale(0.55,1)`}
          textAnchor="middle"
          dominantBaseline="central"
          fontSize={60}
          fill="#555"
        >
          {t}
        </text>
      ))}

      {/* axis titles */}
      <text
        transform={`translate(${(left + right) / 2},${bottom + 126}) scale(0.62,1)`}
        textAnchor="middle"
        dominantBaseline="central"
        fontSize={56}
        fill="#555"
      >
        Wavenumbers [cm
        <tspan dx={14} dy={-22} fontSize={36}>-1</tspan>
        <tspan dx={14} dy={22}>]</tspan>
      </text>
      <text
        transform={`translate(42,${y(97)}) rotate(-90) scale(1.8,1)`}
        textAnchor="middle"
        dominantBaseline="central"
        fontSize={32}
        fill="#a8a8a8"
      >
        Transmittance [%]
      </text>

      {/* legend */}
      <rect x={204} y={86} width={122} height={307} fill="#8a8a8a" />
      <rect x={198} y={80} width={122} height={307} fill="#fff" stroke="#555" strokeWidth={4} />
      {seriesNames.map((name, i) => {
        const ly = 128 + i * 69;
        return (
          <g key={"lg" + name}>
            <line x1={210} x2={247} y1={ly} y2={ly} stroke={swatchColors[i]} strokeWidth={6} />
            <text
              transform={`translate(260,${ly}) scale(0.6,1)`}
              dominantBaseline="central"
              fontSize={56}
              fill={legendTextColors[i]}
            >
              {name}
            </text>
          </g>
        );
      })}
    </svg>
  );
}
